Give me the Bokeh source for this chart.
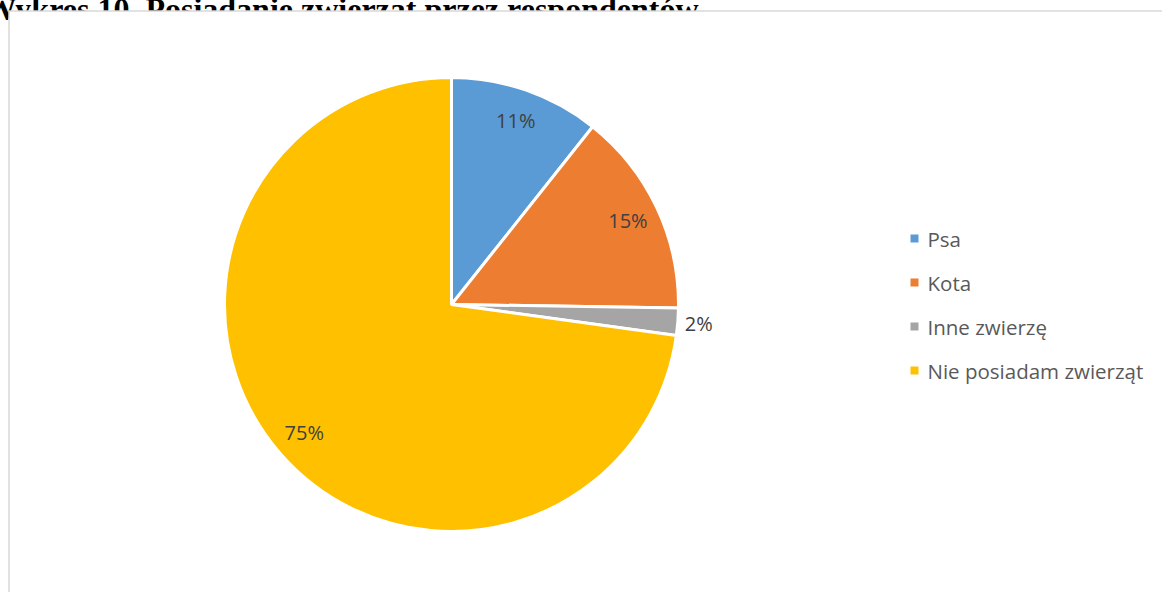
import numpy as np
from bokeh.plotting import figure
from bokeh.models import ColumnDataSource, Range1d
from bokeh.core.properties import value
from bokeh.embed import file_html
from bokeh.resources import INLINE

# ---- data ----
title_text = "Wykres 10. Posiadanie zwierząt przez respondentów"
categories = ["Psa", "Kota", "Inne zwierzę", "Nie posiadam zwierząt"]
values = [11, 15, 2, 75]
colors = ["#5B9BD5", "#ED7D31", "#A5A5A5", "#FFC000"]

W, H = 1170, 600
PH = 595  # page height used for y flipping
p = figure(width=W, height=H, output_backend="svg", toolbar_location=None,
           x_range=Range1d(-8, W - 8), y_range=Range1d(PH - (H - 8), PH + 8),
           min_border=0, outline_line_color=None,
           styles={"margin-top": "-8px", "margin-left": "-8px"})
p.axis.visible = False
p.grid.visible = False
p.background_fill_color = "white"

def Y(py):
    return PH - py

# title (partly hidden behind the chart area, as in the reference)
p.text(x=[698], y=[Y(8)], text=[title_text], text_align="right", text_baseline="alphabetic",
       text_font=value("Liberation Serif"), text_font_style="bold", text_font_size="32px",
       text_color="black")

# chart area (white, with light frame)
p.quad(left=[8.5], right=[1180], top=[Y(10.5)], bottom=[-20],
       fill_color="white", line_color="#D9D9D9", line_width=1.5)

# pie
cx, cy, R = 451, Y(304), 227
vals = np.array(values, dtype=float)
frac = vals / vals.sum()
cum = np.cumsum(frac)
prev = cum - frac
start = np.pi / 2 - 2 * np.pi * cum
end = np.pi / 2 - 2 * np.pi * prev
src = ColumnDataSource(dict(start=start, end=end, color=colors, cat=categories))
p.wedge(x=cx, y=cy, radius=R, start_angle="start", end_angle="end", direction="anticlock",
        fill_color="color", line_color="white", line_width=3, source=src)

# data labels
mid = np.pi / 2 - 2 * np.pi * (prev + frac / 2)
lr = np.where(frac < 0.05, R + 21, R * 0.86)
lx = cx + lr * np.cos(mid)
ly = cy + lr * np.sin(mid)
labels = [f"{v}%" for v in values]
p.text(x=lx, y=ly, text=labels, text_align="center", text_baseline="middle",
       text_font=value("Open Sans"), text_font_size="20px", text_color="#404040")

# legend
n = len(categories)
leg_y = Y(238) - 44 * np.arange(n)
p.scatter(x=[914] * n, y=leg_y, marker="square", size=8, fill_color=colors, line_color=None)
p.text(x=[927] * n, y=leg_y, text=categories, text_align="left", text_baseline="middle",
       text_font=value("Open Sans"), text_font_size="20.5px", text_color="#595959")

open("out.html", "w").write(file_html(p, INLINE))
